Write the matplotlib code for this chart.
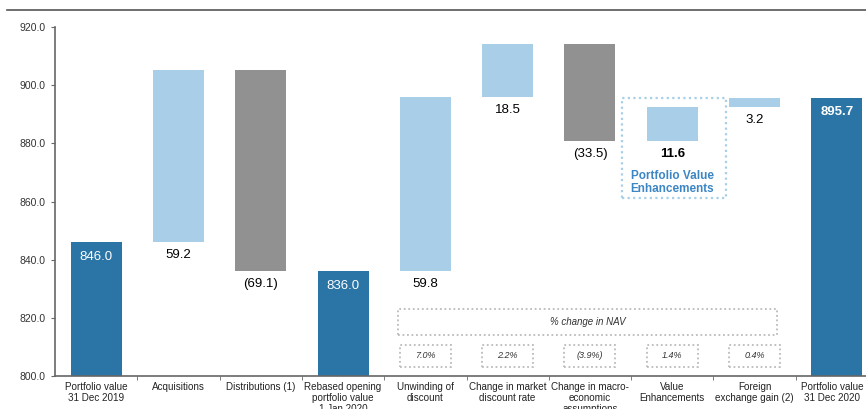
import matplotlib
matplotlib.use('Agg')
import matplotlib.pyplot as plt
import matplotlib.transforms as mtransforms
from matplotlib.patches import Rectangle

plt.rcParams['font.family'] = ['Liberation Sans', 'DejaVu Sans']

categories = ['Portfolio value\n31 Dec 2019', 'Acquisitions', 'Distributions (1)',
              'Rebased opening\nportfolio value\n1 Jan 2020', 'Unwinding of\ndiscount',
              'Change in market\ndiscount rate', 'Change in macro-\neconomic\nassumptions',
              'Value\nEnhancements', 'Foreign\nexchange gain (2)', 'Portfolio value\n31 Dec 2020']
values = [846.0, 59.2, -69.1, 836.0, 59.8, 18.5, -33.5, 11.6, 3.2, 895.7]
kinds = ['total', 'delta', 'delta', 'total', 'delta', 'delta', 'delta', 'delta', 'delta', 'total']
nav_change = ['7.0%', '2.2%', '(3.9%)', '1.4%', '0.4%']
nav_idx = [4, 5, 6, 7, 8]

dark_blue = '#2b75a6'
light_blue = '#a8cfe7'
grey = '#919191'
text_blue = '#3c86c4'

fig = plt.figure(figsize=(8.66, 4.09), dpi=100)
ax = fig.add_axes([55 / 866, 33 / 409, 823 / 866, 349 / 409])
fig.add_artist(plt.Line2D([7 / 866, 1], [1 - 10 / 409, 1 - 10 / 409],
                          color='#555555', lw=1.2, transform=fig.transFigure))

running = 0
for i, (v, k) in enumerate(zip(values, kinds)):
    if k == 'total':
        ax.bar(i, v, width=0.62, color=dark_blue)
        running = v
        ax.annotate('%.1f' % v, (i, v), xytext=(0, -6), textcoords='offset points',
                    ha='center', va='top', color='white', fontsize=9.5,
                    fontweight='bold' if i == 9 else 'normal')
    else:
        ax.bar(i, v, bottom=running, width=0.62,
               color=light_blue if v > 0 else grey)
        low = min(running, running + v)
        running += v
        lab = '%.1f' % v if v > 0 else '(%.1f)' % abs(v)
        ax.annotate(lab, (i, low), xytext=(0, -5), textcoords='offset points',
                    ha='center', va='top', color='black', fontsize=9.5,
                    fontweight='bold' if i == 7 else 'normal')

# value enhancements box
ax.add_patch(Rectangle((6.39, 861.2), 1.26, 34.4, fill=False, ec=light_blue,
                       lw=1.6, ls=(0, (1, 1.5)), clip_on=False))
ax.text(7, 866.4, 'Portfolio Value\nEnhancements', ha='center', va='center',
        color=text_blue, fontsize=8.5, fontweight='bold', linespacing=1.1)

# % change in NAV boxes
ax.add_patch(Rectangle((3.67, 814.1), 4.6, 8.9, fill=False, ec='#bbbbbb',
                       lw=1.3, ls=(0, (1, 1.5))))
ax.text(5.97, 818.5, '% change in NAV', ha='center', va='center',
        fontsize=7, style='italic', color='#333333')
for i, t in zip(nav_idx, nav_change):
    ax.add_patch(Rectangle((i - 0.31, 803.1), 0.62, 7.6, fill=False, ec='#bbbbbb',
                           lw=1.3, ls=(0, (1, 1.5))))
    ax.text(i, 806.9, t, ha='center', va='center', fontsize=6.5,
            style='italic', color='#333333')

ax.set_ylim(800, 920)
ax.set_xlim(-0.5, 9.5)
ax.set_yticks(range(800, 921, 20))
ax.set_yticklabels(['%.1f' % t for t in range(800, 921, 20)], fontsize=7.5, color='#333333')
ax.set_xticks(range(len(categories)))
ax.set_xticklabels(categories, fontsize=7.1, color='#222222', linespacing=1.15)
ax.set_xticks([i + 0.5 for i in range(len(categories) - 1)], minor=True)
ax.tick_params(axis='x', which='major', length=0, pad=4)
ax.tick_params(axis='x', which='minor', length=3, color='#666666')
ax.tick_params(axis='y', length=3, color='#666666')
for s in ['top', 'right']:
    ax.spines[s].set_visible(False)
for s in ['left', 'bottom']:
    ax.spines[s].set_color('#666666')
    ax.spines[s].set_linewidth(1.2)

# last label sits a little left of its bar so it fits the frame
last = ax.get_xticklabels()[-1]
last.set_transform(last.get_transform() + mtransforms.ScaledTranslation(-5 / 100, 0, fig.dpi_scale_trans))

fig.savefig('out.png', dpi=100)
